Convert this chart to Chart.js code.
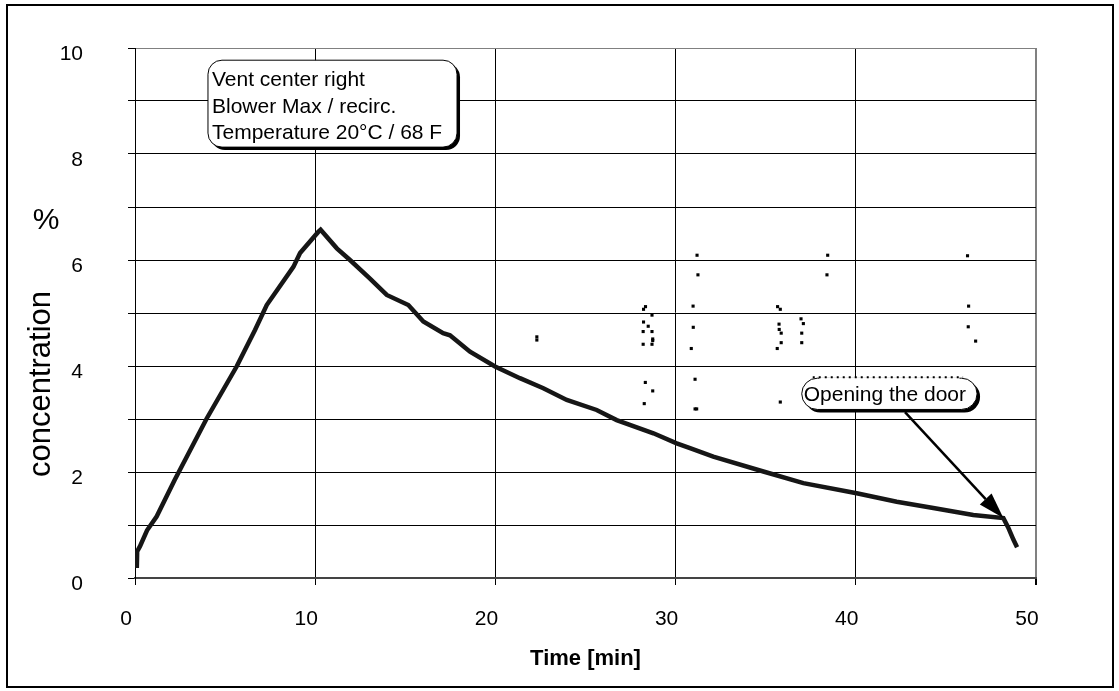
<!DOCTYPE html>
<html>
<head>
<meta charset="utf-8">
<script src="https://cdn.jsdelivr.net/npm/chart.js@4.4.1/dist/chart.umd.min.js"></script>
<style>
  html, body { margin: 0; padding: 0; background: #fff; }
  #wrap { width: 1119px; height: 691px; position: relative; }
</style>
</head>
<body>
<div id="wrap"><canvas id="c"></canvas></div>
<script>
// ---- data ----
const curveTime = [0.1, 0.12, 0.28, 0.67, 1.2, 2.2, 3.98, 5.64, 6.66, 7.31, 8.79, 9.16, 10.17, 10.3,
  11.2, 11.93, 13.04, 13.97, 15.17, 16.0, 17.1, 17.48, 18.59, 19.98, 21.36, 22.66, 23.96, 25.62,
  26.73, 28.77, 30.06, 30.8, 32.09, 34.87, 37.09, 40.05, 42.27, 44.3, 46.52, 48.19, 48.45, 48.75, 48.95];
const curveConc = [0.19, 0.5, 0.6, 0.9, 1.16, 1.85, 3.01, 3.99, 4.68, 5.15, 5.87, 6.13, 6.53, 6.57,
  6.22, 6.0, 5.65, 5.34, 5.15, 4.84, 4.62, 4.58, 4.27, 3.99, 3.77, 3.58, 3.36, 3.17,
  2.98, 2.73, 2.54, 2.45, 2.29, 2.01, 1.79, 1.6, 1.44, 1.32, 1.19, 1.13, 0.96, 0.72, 0.58];

const dotTime = [22.3, 22.3,
  28.33, 28.22, 28.69, 28.22, 28.48, 28.2, 28.69, 28.73, 28.73, 28.2, 28.69, 28.32, 28.73, 28.26,
  31.19, 31.24, 30.97, 30.98, 30.87, 31.08, 31.08, 31.17,
  35.66, 35.81, 35.74, 35.75, 35.86, 35.86, 35.64, 35.81,
  36.96, 37.09, 37.0, 37.0,
  38.44, 38.4, 38.44,
  46.2, 46.26, 46.24, 46.65];
const dotConc = [4.55, 4.49,
  5.12, 5.07, 4.96, 4.83, 4.75, 4.65, 4.65, 4.51, 4.48, 4.41, 4.41, 3.69, 3.53, 3.29,
  6.09, 5.72, 5.13, 4.73, 4.33, 3.75, 3.19, 3.19,
  5.12, 5.07, 4.79, 4.69, 4.62, 4.44, 4.33, 3.32,
  4.89, 4.8, 4.62, 4.44,
  6.09, 5.72, 3.75,
  6.08, 5.13, 4.74, 4.47];

const xTicks = [0, 10, 20, 30, 40, 50];
const yTicks = [0, 2, 4, 6, 8, 10];
const xTitle = 'Time [min]';
const yTitle = 'concentration';
const yUnit = '%';
const note1Lines = ['Vent center right', 'Blower Max / recirc.', 'Temperature 20°C / 68 F'];
const note2Text = 'Opening the door';
// ---------------------------------------

const FONT = '"Liberation Sans", Arial, sans-serif';

const curvePts = curveTime.map((t, i) => ({ x: t, y: curveConc[i] }));
const dotPts = dotTime.map((t, i) => ({ x: t, y: dotConc[i] }));

function roundRect(ctx, x, y, w, h, r) {
  ctx.beginPath();
  ctx.moveTo(x + r, y);
  ctx.lineTo(x + w - r, y);
  ctx.arcTo(x + w, y, x + w, y + r, r);
  ctx.lineTo(x + w, y + h - r);
  ctx.arcTo(x + w, y + h, x + w - r, y + h, r);
  ctx.lineTo(x + r, y + h);
  ctx.arcTo(x, y + h, x, y + h - r, r);
  ctx.lineTo(x, y + r);
  ctx.arcTo(x, y, x + r, y, r);
  ctx.closePath();
}

function noOverhang(s) {
  s.paddingTop = 0; s.paddingBottom = 0; s.paddingLeft = 0; s.paddingRight = 0;
}

const decor = {
  id: 'decor',
  beforeDraw(chart) {
    const ctx = chart.ctx;
    ctx.save();
    ctx.fillStyle = '#fff';
    ctx.fillRect(0, 0, chart.width, chart.height);
    ctx.restore();
  },
  afterDraw(chart) {
    const ctx = chart.ctx;
    const xs = chart.scales.x, ys = chart.scales.y;
    const ca = chart.chartArea;
    ctx.save();
    // outer frame
    ctx.strokeStyle = '#000';
    ctx.lineWidth = 2;
    ctx.strokeRect(7, 5, 1106, 682);

    // titles
    ctx.fillStyle = '#000';
    ctx.textAlign = 'center';
    ctx.textBaseline = 'middle';
    ctx.font = 'bold 22px ' + FONT;
    ctx.fillText(xTitle, (ca.left + ca.right) / 2, 659);
    ctx.font = '30px ' + FONT;
    ctx.fillText(yUnit, 46, 221);
    ctx.save();
    ctx.translate(41, 384);
    ctx.rotate(-Math.PI / 2);
    ctx.font = '31px ' + FONT;
    ctx.fillText(yTitle, 0, 0);
    ctx.restore();

    // note 1
    {
      const x0 = xs.getPixelForValue(4.05), x1 = xs.getPixelForValue(17.87);
      const y0 = ys.getPixelForValue(9.77), y1 = ys.getPixelForValue(8.13);
      ctx.fillStyle = '#000';
      roundRect(ctx, x0 + 3, y0 + 3, x1 - x0, y1 - y0, 14);
      ctx.fill();
      ctx.fillStyle = '#fff';
      roundRect(ctx, x0, y0, x1 - x0, y1 - y0, 14);
      ctx.fill();
      ctx.lineWidth = 1;
      ctx.strokeStyle = '#000';
      ctx.stroke();
      ctx.fillStyle = '#000';
      ctx.textAlign = 'left';
      ctx.textBaseline = 'middle';
      ctx.font = '21px ' + FONT;
      const offs = [20, 47, 73];
      note1Lines.forEach((l, i) => ctx.fillText(l, x0 + 4, y0 + offs[i]));
    }

    // note 2 + arrow
    {
      const x0 = xs.getPixelForValue(37.0), x1 = xs.getPixelForValue(46.73);
      const y0 = ys.getPixelForValue(3.77), y1 = ys.getPixelForValue(3.18);
      const ax = xs.getPixelForValue(42.73), ay = ys.getPixelForValue(3.13);
      const last = curveTime.indexOf(48.19);
      const bx = xs.getPixelForValue(curveTime[last]), by = ys.getPixelForValue(curveConc[last]);
      const ang = Math.atan2(by - ay, bx - ax);
      const hl = 26, hw = 8;
      ctx.strokeStyle = '#000';
      ctx.lineWidth = 2.5;
      ctx.beginPath();
      ctx.moveTo(ax, ay);
      ctx.lineTo(bx - Math.cos(ang) * hl, by - Math.sin(ang) * hl);
      ctx.stroke();
      ctx.fillStyle = '#000';
      ctx.beginPath();
      ctx.moveTo(bx, by);
      ctx.lineTo(bx - Math.cos(ang) * hl - Math.sin(ang) * hw, by - Math.sin(ang) * hl + Math.cos(ang) * hw);
      ctx.lineTo(bx - Math.cos(ang) * hl + Math.sin(ang) * hw, by - Math.sin(ang) * hl - Math.cos(ang) * hw);
      ctx.closePath();
      ctx.fill();

      const r = (y1 - y0) / 2;
      ctx.fillStyle = '#000';
      roundRect(ctx, x0 + 3, y0 + 3, x1 - x0, y1 - y0, r);
      ctx.fill();
      ctx.fillStyle = '#fff';
      roundRect(ctx, x0, y0, x1 - x0, y1 - y0, r);
      ctx.fill();
      ctx.lineWidth = 1;
      ctx.strokeStyle = '#000';
      ctx.stroke();
      // dotted top edge
      ctx.strokeStyle = '#fff';
      ctx.lineWidth = 2;
      ctx.beginPath();
      ctx.moveTo(x0 + r + 2, y0);
      ctx.lineTo(x1 - r - 2, y0);
      ctx.stroke();
      ctx.strokeStyle = '#000';
      ctx.lineWidth = 2;
      ctx.setLineDash([2, 4]);
      ctx.beginPath();
      ctx.moveTo(x0 + 11, y0 - 1);
      ctx.lineTo(x1 - 14, y0 - 1);
      ctx.stroke();
      ctx.setLineDash([]);
      ctx.fillStyle = '#000';
      ctx.textAlign = 'left';
      ctx.textBaseline = 'middle';
      ctx.font = '21px ' + FONT;
      ctx.fillText(note2Text, x0 + 2, (y0 + y1) / 2 + 1);
    }
    ctx.restore();
  }
};

new Chart(document.getElementById('c'), {
  type: 'scatter',
  data: {
    datasets: [
      {
        type: 'line',
        data: curvePts,
        borderColor: '#161616',
        borderWidth: 4.5,
        pointRadius: 0,
        tension: 0,
        fill: false,
        order: 1
      },
      {
        type: 'scatter',
        data: dotPts,
        pointStyle: 'rect',
        pointRadius: 2.2,
        pointBorderWidth: 0,
        pointBackgroundColor: '#000',
        backgroundColor: '#000',
        borderWidth: 0,
        order: 2
      }
    ]
  },
  options: {
    responsive: true,
    maintainAspectRatio: false,
    animation: false,
    events: [],
    layout: { padding: { left: 0, right: 83, top: 48, bottom: 0 } },
    plugins: { legend: { display: false }, tooltip: { enabled: false } },
    scales: {
      x: {
        type: 'linear',
        min: xTicks[0],
        max: xTicks[xTicks.length - 1],
        afterFit(s) { s.height = 113; noOverhang(s); },
        afterBuildTicks(s) { s.ticks = xTicks.map(v => ({ value: v })); },
        ticks: {
          font: { family: FONT, size: 21 },
          color: '#000',
          padding: 22,
          labelOffset: -9,
          maxRotation: 0,
          callback: v => String(v)
        },
        grid: {
          color: ctx => (ctx.tick && ctx.tick.value === 50) ? '#808080' : '#000',
          lineWidth: ctx => (ctx.tick && ctx.tick.value === 50) ? 2 : 1,
          tickLength: 7,
          tickColor: '#000',
          drawTicks: true
        },
        border: { color: '#444', width: 2 }
      },
      y: {
        type: 'linear',
        min: 0,
        max: 10,
        afterFit(s) { s.width = 135; noOverhang(s); },
        afterBuildTicks(s) {
          const t = [];
          for (let v = 0; v <= 10; v++) t.push({ value: v });
          s.ticks = t;
        },
        ticks: {
          font: { family: FONT, size: 21 },
          color: '#000',
          padding: 45,
          labelOffset: 6,
          callback: v => (yTicks.includes(v) ? String(v) : '')
        },
        grid: {
          color: ctx => (ctx.tick && ctx.tick.value === 10) ? '#808080' : '#000',
          lineWidth: 1,
          tickLength: 7,
          tickColor: '#000',
          drawTicks: true
        },
        border: { color: '#000', width: 1 }
      }
    }
  },
  plugins: [decor]
});
</script>
</body>
</html>
